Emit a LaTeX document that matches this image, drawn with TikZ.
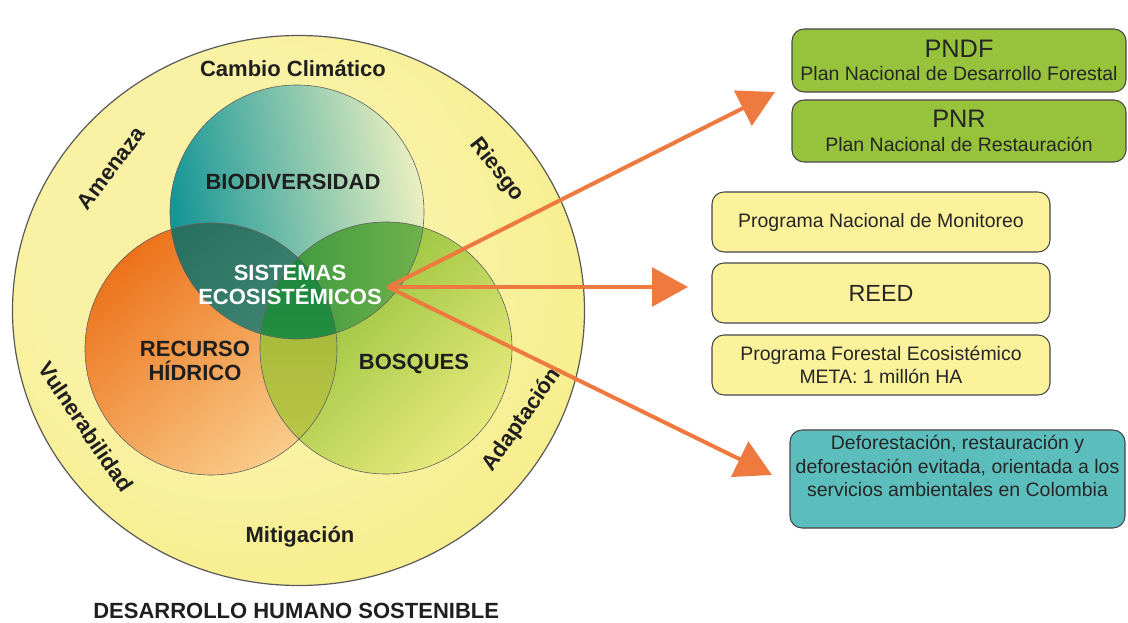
\documentclass[tikz,border=0pt]{standalone}
\usepackage{fontspec}
\setmainfont{Liberation Sans}
\usetikzlibrary{arrows.meta}

\definecolor{anilloSat}{RGB}{241,228,96}
\definecolor{anilloMid}{RGB}{246,236,128}
\definecolor{anilloPal}{RGB}{249,242,164}
\definecolor{bioA}{RGB}{18,148,150}
\definecolor{bioB}{RGB}{234,239,192}
\definecolor{recA}{RGB}{236,114,26}
\definecolor{recB}{RGB}{249,204,138}
\definecolor{bosA}{RGB}{134,186,48}
\definecolor{bosB}{RGB}{232,234,124}
\definecolor{bioRecA}{RGB}{38,110,94}
\definecolor{bioRecB}{RGB}{78,146,124}
\definecolor{bioBosA}{RGB}{54,150,62}
\definecolor{bioBosB}{RGB}{142,192,82}
\definecolor{recBosA}{RGB}{152,176,48}
\definecolor{recBosB}{RGB}{190,200,74}
\definecolor{centroA}{RGB}{26,132,60}
\definecolor{centroB}{RGB}{44,150,70}
\definecolor{naranja}{RGB}{239,122,64}
\definecolor{verdecaja}{RGB}{150,194,60}
\definecolor{amarillocaja}{RGB}{251,242,155}
\definecolor{tealcaja}{RGB}{92,190,188}

\pgfdeclareradialshading{anilloGrad}{\pgfpoint{-8bp}{8bp}}{color(0bp)=(anilloPal); color(18bp)=(anilloPal); color(38bp)=(anilloMid); color(55bp)=(anilloSat)}

\tikzset{
  rotulo/.style={font=\bfseries\fontsize{16.5}{18.5}\selectfont, text=black!88, inner sep=0.75pt, align=center},
  caja/.style={draw=black!72, line width=0.8pt, rounded corners=9pt, align=center, text=black!85, inner sep=1pt, font=\fontsize{14.6}{17.5}\selectfont},
  flecha/.style={draw=naranja, line width=3pt, -{Triangle[length=27pt,width=29pt]}},
  borde/.style={draw=black!62, line width=0.45pt},
}

\begin{document}
\begin{tikzpicture}[x=0.75pt,y=0.75pt,yscale=-1,xscale=1]
\useasboundingbox (0,0) rectangle (1128,623);

\coordinate (cAnillo) at (298.5,310.5);
\coordinate (cBio) at (297,212);
\coordinate (cRec) at (211,349);
\coordinate (cBos) at (386,348);

%Shape: Ellipse [anillo exterior]
\shade[shading=anilloGrad] (cAnillo) ellipse [x radius=286, y radius=275];
\draw[line width=0.9pt, draw=black!65] (cAnillo) ellipse [x radius=286, y radius=275];

%Shape: Circle [biodiversidad, recurso, bosques]
\shade[left color=bioA, right color=bioB, shading angle=100] (cBio) circle [radius=127];
\shade[top color=recA, bottom color=recB, shading angle=40] (cRec) circle [radius=126];
\shade[top color=bosA, bottom color=bosB, shading angle=45] (cBos) circle [radius=126];

%Shape: interseccion bio-recurso
\begin{scope}
  \clip (cBio) circle [radius=127];
  \shade[top color=bioRecA, bottom color=bioRecB, shading angle=40] (cRec) circle [radius=126];
\end{scope}
%Shape: interseccion bio-bosques
\begin{scope}
  \clip (cBio) circle [radius=127];
  \shade[left color=bioBosA, right color=bioBosB] (cBos) circle [radius=126];
\end{scope}
%Shape: interseccion recurso-bosques
\begin{scope}
  \clip (cRec) circle [radius=126];
  \shade[top color=recBosA, bottom color=recBosB] (cBos) circle [radius=126];
\end{scope}
%Shape: centro comun
\begin{scope}
  \clip (cBio) circle [radius=127];
  \clip (cRec) circle [radius=126];
  \shade[top color=centroA, bottom color=centroB] (cBos) circle [radius=126];
\end{scope}

\draw[borde] (cBio) circle [radius=127];
\draw[borde] (cRec) circle [radius=126];
\draw[borde] (cBos) circle [radius=126];

% Text Node
\node[rotulo] (cambio) at (293,69) {Cambio Climático};
% Text Node
\node[rotulo, rotate=53] (amenaza) at (111,168) {Amenaza};
% Text Node
\node[rotulo, rotate=-52] (riesgo) at (497,170) {Riesgo};
% Text Node
\node[rotulo, rotate=-56] (vulnerab) at (86,427) {Vulnerabilidad};
% Text Node
\node[rotulo, rotate=55] (adaptac) at (522,420) {Adaptación};
% Text Node
\node[rotulo] (mitigac) at (300,537) {Mitigación};
% Text Node
\node[rotulo] (biodiv) at (293,182) {BIODIVERSIDAD};
% Text Node
\node[rotulo, text=white] (sistemas) at (290,285) {SISTEMAS\\ECOSISTÉMICOS};
% Text Node
\node[rotulo] (recurso) at (195,361) {RECURSO\\HÍDRICO};
% Text Node
\node[rotulo] (bosques) at (414,364) {BOSQUES};
% Text Node
\node[rotulo, anchor=base west] (desarrollo) at (92,618) {DESARROLLO HUMANO SOSTENIBLE};

%Straight Lines [flechas]
\coordinate (hub) at (388,287);
\coordinate (tipPlan) at (775,92);
\coordinate (tipProg) at (688,287);
\coordinate (tipDefo) at (772,475);
\draw[flecha] (hub) -- (tipPlan);
\draw[flecha] (hub) -- (tipProg);
\draw[flecha] (hub) -- (tipDefo);

%Shape: Rectangle [cajas verdes]
\node[caja, fill=verdecaja, minimum width=250.5pt, minimum height=47.25pt] (pndf) at (959,60.5) {{\fontsize{19}{21}\selectfont PNDF}\\Plan Nacional de Desarrollo Forestal};
\node[caja, fill=verdecaja, minimum width=250.5pt, minimum height=46.5pt] (pnr) at (959,131) {{\fontsize{19}{21}\selectfont PNR}\\Plan Nacional de Restauración};

%Shape: Rectangle [cajas amarillas]
\node[caja, fill=amarillocaja, minimum width=253.5pt, minimum height=45pt] (monitoreo) at (881,222) {Programa Nacional de Monitoreo};
\node[caja, fill=amarillocaja, minimum width=253.5pt, minimum height=45pt, font=\fontsize{17.5}{20}\selectfont] (reed) at (881,293) {REED};
\node[caja, fill=amarillocaja, minimum width=253.5pt, minimum height=45pt] (forestal) at (881,365) {Programa Forestal Ecosistémico\\META: 1 millón HA};

%Shape: Rectangle [caja turquesa]
\node[caja, fill=tealcaja, minimum width=251.25pt, minimum height=73.5pt] (defo) at (957.5,479) {};
% Text Node
\node[caja, draw=none] (defotxt) at (957.5,466) {Deforestación, restauración y\\deforestación evitada, orientada a los\\servicios ambientales en Colombia};

\end{tikzpicture}
\end{document}
